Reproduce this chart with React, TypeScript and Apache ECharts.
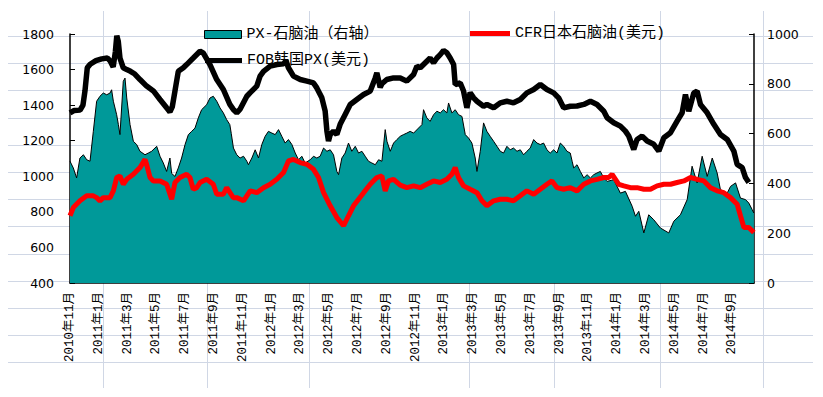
import { useEffect, useRef } from "react";
import * as echarts from "echarts";

// x = months since 2010-11-01
const spreadPXNaphtha: [number, number][] = [
  [0,489],[0.23,462],[0.46,422],[0.69,502],[0.93,515],[1.16,495],[1.39,489],[1.62,609],[1.85,730],[2.08,750],[2.31,763],[2.55,756],[2.78,763],[2.89,776],[3.01,730],[3.24,676],[3.36,636],[3.47,596],[3.7,810],[3.82,823],[3.94,743],[4.17,636],[4.4,569],[4.63,556],[4.86,529],[5.21,515],[5.44,522],[5.67,529],[6.02,549],[6.25,509],[6.48,482],[6.71,448],[6.94,502],[7.06,440],[7.29,428],[7.52,462],[7.75,502],[7.99,556],[8.22,596],[8.45,609],[8.68,622],[8.91,663],[9.14,696],[9.49,716],[9.72,743],[9.95,750],[10.19,730],[10.42,703],[10.65,683],[10.88,656],[11.1,636],[11.2,600],[11.35,542],[11.58,515],[11.81,502],[12.05,509],[12.28,489],[12.39,475],[12.63,502],[12.86,535],[13.09,502],[13.32,556],[13.55,589],[13.78,609],[14.02,602],[14.25,596],[14.48,616],[14.71,589],[14.94,562],[15.17,576],[15.41,556],[15.64,522],[15.87,495],[16.1,509],[16.33,482],[16.68,495],[16.91,509],[17.14,502],[17.37,509],[17.61,542],[17.84,529],[18.07,535],[18.3,515],[18.53,448],[18.65,435],[18.88,502],[19.11,522],[19.34,562],[19.57,529],[19.81,549],[20.04,522],[20.27,529],[20.5,509],[20.73,489],[20.96,482],[21.2,475],[21.43,495],[21.66,489],[21.89,616],[22.01,569],[22.24,529],[22.47,562],[22.7,576],[22.93,589],[23.16,596],[23.39,602],[23.62,609],[23.86,602],[24.2,622],[24.44,636],[24.55,696],[24.78,663],[25.01,649],[25.25,676],[25.48,690],[25.71,683],[25.94,696],[26.17,683],[26.29,723],[26.52,683],[26.75,696],[26.98,676],[27.22,669],[27.45,596],[27.68,582],[27.91,562],[28.14,502],[28.26,448],[28.49,529],[28.72,643],[28.95,609],[29.18,589],[29.42,569],[29.65,549],[29.88,529],[30.11,522],[30.34,549],[30.57,535],[30.8,542],[31.04,529],[31.27,535],[31.5,515],[31.73,529],[31.96,542],[32.2,576],[32.43,562],[32.66,556],[32.89,562],[33.12,535],[33.35,522],[33.59,535],[33.82,522],[34.05,562],[34.28,549],[34.51,529],[34.74,522],[34.87,489],[34.98,462],[35.21,475],[35.44,448],[35.68,422],[35.91,435],[36.14,422],[36.37,435],[36.6,442],[36.83,448],[37.07,422],[37.3,408],[37.76,415],[38.22,361],[38.57,368],[39.04,308],[39.27,268],[39.5,288],[39.85,201],[40.19,274],[40.54,254],[41.0,221],[41.58,201],[41.93,248],[42.39,274],[42.86,335],[43.2,469],[43.55,402],[43.9,509],[44.25,428],[44.6,502],[44.94,442],[45.17,375],[45.64,361],[45.87,388],[46.22,402],[46.56,341],[46.91,335],[47.14,321],[47.37,295],[47.49,281]
];

const cfrJapanNaphtha: [number, number][] = [
  [0,778],[0.23,824],[0.69,862],[1.16,890],[1.62,890],[1.85,880],[2.08,862],[2.31,880],[2.78,880],[3.01,918],[3.24,993],[3.47,1002],[3.7,955],[3.94,983],[4.4,1011],[4.86,1049],[5.21,1095],[5.32,1067],[5.56,993],[5.79,974],[6.25,974],[6.71,955],[7.06,871],[7.29,965],[7.64,993],[8.1,1011],[8.33,993],[8.56,927],[8.8,936],[9.03,965],[9.49,983],[9.95,955],[10.19,899],[10.65,899],[10.88,936],[11.34,880],[11.58,880],[12.05,862],[12.51,918],[12.97,908],[13.44,936],[13.9,955],[14.36,983],[14.83,1021],[15.17,1086],[15.52,1095],[15.98,1077],[16.45,1067],[16.91,1039],[17.26,993],[17.61,908],[18.07,834],[18.53,768],[19.0,722],[19.34,778],[19.69,834],[20.04,871],[20.39,908],[20.85,955],[21.31,993],[21.66,1002],[21.89,918],[22.12,974],[22.47,983],[22.93,950],[23.39,936],[23.86,946],[24.32,936],[24.78,955],[25.25,974],[25.71,965],[26.17,983],[26.52,1011],[26.75,1049],[26.98,993],[27.33,946],[27.79,927],[28.26,908],[28.61,862],[28.95,834],[29.42,862],[29.88,871],[30.34,871],[30.8,862],[31.27,890],[31.73,918],[32.2,899],[32.66,927],[33.12,955],[33.47,974],[33.82,936],[34.28,927],[34.74,936],[35.21,918],[35.68,955],[36.14,974],[36.6,983],[37.07,993],[37.41,993],[37.65,1011],[38.11,955],[38.46,946],[38.92,936],[39.38,936],[39.85,927],[40.31,927],[40.77,946],[41.24,955],[41.7,955],[42.16,965],[42.63,974],[43.09,993],[43.55,983],[44.02,974],[44.48,936],[44.94,918],[45.4,908],[45.87,880],[46.33,843],[46.56,778],[46.8,712],[47.14,712],[47.49,684]
];

const fobKoreaPX: [number, number][] = [
  [0,1356],[0.3,1370],[0.7,1372],[0.9,1400],[1.04,1480],[1.2,1610],[1.4,1630],[1.8,1650],[2.2,1660],[2.6,1665],[2.8,1647],[3.0,1615],[3.15,1700],[3.25,1790],[3.35,1760],[3.47,1665],[3.7,1610],[3.94,1600],[4.2,1590],[4.5,1575],[4.86,1544],[5.32,1507],[5.79,1480],[6.25,1432],[6.71,1385],[6.94,1362],[7.1,1390],[7.29,1480],[7.52,1590],[7.87,1610],[8.1,1628],[8.56,1665],[9.03,1703],[9.25,1694],[9.72,1628],[10.19,1544],[10.65,1488],[11.1,1404],[11.34,1376],[11.58,1357],[11.8,1376],[12.28,1450],[12.5,1469],[12.97,1507],[13.2,1563],[13.44,1590],[13.9,1619],[14.37,1628],[14.83,1632],[15.0,1650],[15.17,1610],[15.52,1563],[15.99,1544],[16.45,1535],[16.91,1525],[17.14,1497],[17.49,1441],[17.72,1366],[17.84,1254],[17.95,1198],[18.07,1235],[18.3,1254],[18.53,1235],[18.76,1292],[19.11,1348],[19.46,1404],[19.92,1432],[20.39,1460],[20.85,1479],[21.2,1553],[21.31,1581],[21.54,1500],[21.66,1520],[22.0,1544],[22.47,1553],[22.93,1553],[23.39,1535],[23.86,1572],[24.09,1619],[24.32,1610],[24.78,1647],[25.01,1665],[25.25,1638],[25.48,1665],[25.71,1684],[25.94,1707],[26.17,1694],[26.4,1665],[26.64,1628],[26.75,1516],[27.1,1525],[27.33,1479],[27.56,1385],[27.79,1470],[28.03,1441],[28.26,1422],[28.72,1394],[28.95,1404],[29.42,1385],[29.88,1413],[30.34,1422],[30.8,1413],[31.27,1432],[31.73,1469],[32.2,1488],[32.66,1516],[33.12,1488],[33.59,1469],[33.93,1441],[34.28,1385],[34.74,1394],[35.21,1395],[35.68,1404],[36.14,1422],[36.6,1404],[37.07,1366],[37.3,1329],[37.76,1301],[38.22,1282],[38.57,1254],[38.8,1226],[39.15,1151],[39.38,1207],[39.73,1226],[40.08,1198],[40.54,1180],[40.89,1142],[41.24,1217],[41.7,1245],[42.16,1310],[42.51,1357],[42.74,1460],[42.97,1366],[43.32,1469],[43.55,1479],[43.78,1404],[44.25,1357],[44.71,1292],[45.17,1235],[45.64,1207],[46.1,1142],[46.33,1067],[46.68,1049],[46.91,993],[47.14,965]
];

const seriesNames = ["PX-石脑油（右轴）", "CFR日本石脑油(美元)", "FOB韩国PX(美元)"];
const startYear = 2010;
const startMonth = 11;

export default function App() {
  const ref = useRef<HTMLDivElement>(null);
  useEffect(() => {
    if (!ref.current) return;
    const chart = echarts.init(ref.current, null, { renderer: "svg" });
    const sheetGrid = "#D0D7E5";
    const graphics: any[] = [];
    for (let k = 0; k <= 12; k++) {
      const y = Math.round(36 + 27.2 * k) + 0.5;
      graphics.push({ type: "line", z: 0, silent: true, shape: { x1: 8, y1: y, x2: 813, y2: y }, style: { stroke: sheetGrid, lineWidth: 1 } });
    }
    [103, 207, 309, 469, 554, 660, 763].forEach((x) => {
      graphics.push({ type: "line", z: 0, silent: true, shape: { x1: x + 0.5, y1: 11, x2: x + 0.5, y2: 388 }, style: { stroke: sheetGrid, lineWidth: 1 } });
    });
    const legendText = { fontFamily: "'Liberation Mono', 'Noto Sans CJK SC'", fontSize: 15, color: "#000" };
    const fmtMonth = (v: number) => {
      const r = Math.round(v);
      if (Math.abs(v - r) > 1e-6 || r % 2 !== 0) return "";
      const t = startMonth - 1 + r;
      return `${startYear + Math.floor(t / 12)}年${(t % 12) + 1}月`;
    };
    const plain = (v: number) => String(v);
    chart.setOption({
      animation: false,
      backgroundColor: "#fff",
      graphic: graphics,
      grid: { left: 70, right: 69, top: 34, bottom: 114, containLabel: false },
      legend: [
        { left: 204, top: 27, padding: 0, itemWidth: 37, itemHeight: 8, selectedMode: false, textStyle: legendText,
          data: [{ name: seriesNames[0], icon: "rect", itemStyle: { color: "#009999", borderColor: "#000", borderWidth: 1 } }] },
        { left: 470, top: 26, padding: 0, itemWidth: 40, itemHeight: 5, selectedMode: false, textStyle: legendText,
          data: [{ name: seriesNames[1], icon: "rect", itemStyle: { color: "#FF0000", borderWidth: 0 } }] },
        { left: 205, top: 53, padding: 0, itemWidth: 37, itemHeight: 5, selectedMode: false, textStyle: legendText,
          data: [{ name: seriesNames[2], icon: "rect", itemStyle: { color: "#000", borderWidth: 0 } }] },
      ],
      xAxis: {
        type: "value", min: 0, max: 47.5, interval: 2,
        axisLine: { show: true, lineStyle: { color: "#000", width: 1.5 } },
        axisTick: { show: true, inside: true, length: 5, lineStyle: { color: "#000" } },
        splitLine: { show: false },
        axisLabel: { rotate: 90, margin: 9, color: "#000", fontSize: 12.5, fontFamily: "'Liberation Mono', 'Noto Sans CJK SC'", formatter: fmtMonth, showMaxLabel: false },
      },
      yAxis: [
        { type: "value", min: 400, max: 1800, interval: 200, position: "left",
          axisLine: { show: true, lineStyle: { color: "#000", width: 1.5 } },
          axisTick: { show: true, inside: true, length: 5, lineStyle: { color: "#000" } },
          splitLine: { show: false },
          axisLabel: { color: "#000", fontSize: 12.5, fontFamily: "'DejaVu Sans'", margin: 16, formatter: plain } },
        { type: "value", min: 0, max: 1000, interval: 200, position: "right",
          axisLine: { show: true, lineStyle: { color: "#000", width: 1.5 } },
          axisTick: { show: true, inside: true, length: 5, lineStyle: { color: "#000" } },
          splitLine: { show: false },
          axisLabel: { color: "#000", fontSize: 12.5, fontFamily: "'DejaVu Sans'", margin: 13, formatter: plain } },
      ],
      series: [
        { name: seriesNames[0], type: "line", yAxisIndex: 1, data: spreadPXNaphtha, symbol: "none", z: 2,
          lineStyle: { color: "#000", width: 1 }, itemStyle: { color: "#009999" }, areaStyle: { color: "#009999", opacity: 1 } },
        { name: seriesNames[1], type: "line", yAxisIndex: 0, data: cfrJapanNaphtha, symbol: "none", z: 3,
          lineStyle: { color: "#FF0000", width: 5 }, itemStyle: { color: "#FF0000" } },
        { name: seriesNames[2], type: "line", yAxisIndex: 0, data: fobKoreaPX, symbol: "none", z: 4,
          lineStyle: { color: "#000", width: 5.5 }, itemStyle: { color: "#000" } },
      ],
    });
    return () => chart.dispose();
  }, []);
  return <div ref={ref} style={{ position: "fixed", left: 0, top: 0, width: 823, height: 397 }} />;
}
